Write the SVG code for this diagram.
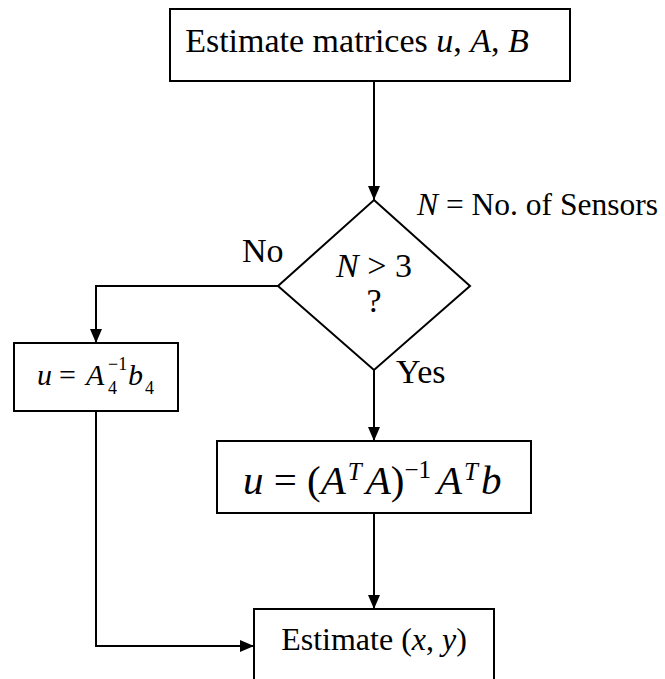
<svg xmlns="http://www.w3.org/2000/svg" width="665" height="679" viewBox="0 0 665 679" font-family="'Liberation Serif', 'DejaVu Serif', serif">
<style>
.box{fill:#fff;stroke:#000;stroke-width:2}
.ln{fill:none;stroke:#000;stroke-width:2}
text{fill:#000}
.t{font-size:34px}
.i{font-style:italic}
</style>
<defs>
<marker id="ah" viewBox="0 0 14 12" refX="14" refY="6" markerWidth="14" markerHeight="12" markerUnits="userSpaceOnUse" orient="auto">
<path d="M0,0 L14,6 L0,12 Z" fill="#000"/>
</marker>
</defs>
<g id="connectors">
<path class="ln" d="M374,81 V200" marker-end="url(#ah)"/>
<path class="ln" d="M278,286 H96 V343" marker-end="url(#ah)"/>
<path class="ln" d="M374,370 V441" marker-end="url(#ah)"/>
<path class="ln" d="M374,513 V609" marker-end="url(#ah)"/>
<path class="ln" d="M96,411 V646 H254" marker-end="url(#ah)"/>
</g>
<g id="start">
<rect class="box" x="170" y="9" width="400" height="72"/>
<text class="t" x="357" y="52" text-anchor="middle">Estimate matrices <tspan class="i">u</tspan>, <tspan class="i">A</tspan>, <tspan class="i">B</tspan></text>
</g>
<g id="decision">
<polygon class="box" points="374,200 470,286 374,370 278,286"/>
<text class="t" x="374" y="277" text-anchor="middle"><tspan class="i">N</tspan> &gt; 3</text>
<text class="t" x="374" y="312" text-anchor="middle">?</text>
<text font-size="31.5" x="417" y="215"><tspan class="i">N</tspan> = No. of Sensors</text>
<text class="t" x="242" y="262">No</text>
<text class="t" x="396" y="383">Yes</text>
</g>
<g id="left">
<rect class="box" x="14" y="343" width="164" height="68"/>
<text class="i" font-size="30" x="37" y="385">u</text>
<text font-size="30" x="59" y="385">=</text>
<text class="i" font-size="30" x="86" y="385">A</text>
<text font-size="18" x="108" y="370">−1</text>
<text font-size="18" x="108" y="394">4</text>
<text class="i" font-size="30" x="128" y="385">b</text>
<text font-size="18" x="145" y="394">4</text>
</g>
<g id="formula">
<rect class="box" x="217" y="441" width="314" height="72"/>
<text font-size="41" x="243" y="494"><tspan class="i">u</tspan> = (<tspan class="i">A</tspan><tspan class="i" font-size="25" dy="-14" dx="2">T</tspan><tspan class="i" dy="14" dx="4">A</tspan>)<tspan font-size="25" dy="-16">−1</tspan><tspan class="i" dy="16" dx="6">A</tspan><tspan class="i" font-size="25" dy="-14" dx="2">T</tspan><tspan class="i" dy="14" dx="3">b</tspan></text>
</g>
<g id="end">
<rect class="box" x="254" y="609" width="240" height="90"/>
<text font-size="32" x="374" y="650" text-anchor="middle">Estimate (<tspan class="i">x</tspan>, <tspan class="i">y</tspan>)</text>
</g>
</svg>
